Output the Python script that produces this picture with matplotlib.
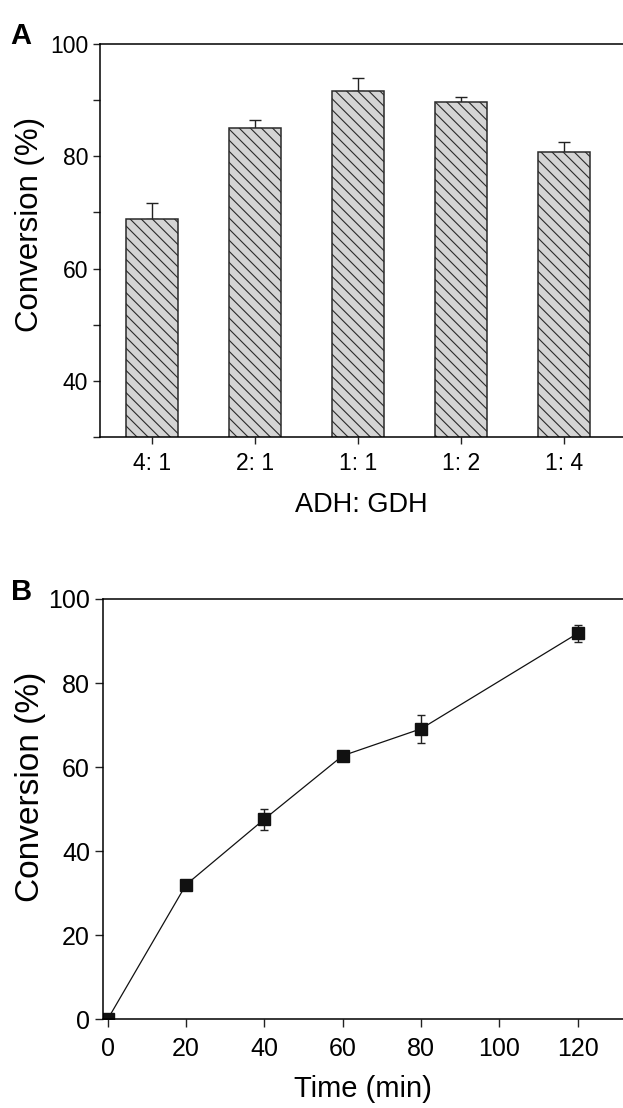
import matplotlib
matplotlib.use("Agg")
import matplotlib.pyplot as plt
from matplotlib.ticker import MultipleLocator

# panel A data
ratios = ['4: 1', '2: 1', '1: 1', '1: 2', '1: 4']
conv_a = [68.8, 85.0, 91.7, 89.6, 80.8]
err_a = [2.8, 1.5, 2.2, 1.0, 1.8]

# panel B data
time_b = [0, 20, 40, 60, 80, 120]
conv_b = [0.0, 32.0, 47.6, 62.7, 69.1, 91.8]
err_b = [0.0, 1.0, 2.5, 0.6, 3.4, 2.1]

plt.rcParams['font.family'] = ['Liberation Sans', 'DejaVu Sans']
plt.rcParams['hatch.linewidth'] = 0.8
plt.rcParams['axes.linewidth'] = 1.1

fig = plt.figure(figsize=(6.23, 11.08), dpi=100)

# ---- A ----
ax1 = fig.add_axes([0.1605, 0.6056, 1 - 0.1605, 0.3547])
x = list(range(len(ratios)))
ax1.bar(x, conv_a, width=0.5, color='#d4d4d4', edgecolor='#2a2a2a',
        linewidth=1.1, hatch='\\\\\\', zorder=2)
ax1.errorbar(x, conv_a, yerr=[[0] * len(err_a), err_a], fmt='none',
             ecolor='#222222', elinewidth=1, capsize=4.5, capthick=1, zorder=1)
ax1.set_xlim(-0.505, 4.573)
ax1.set_ylim(30, 100)
ax1.set_xticks(x)
ax1.set_xticklabels(ratios)
ax1.set_yticks([40, 60, 80, 100])
ax1.yaxis.set_minor_locator(MultipleLocator(10))
ax1.tick_params(which='both', direction='out', length=5, width=1,
                labelsize=16.5, color='#222222')
ax1.tick_params(axis='x', pad=6)
ax1.spines['right'].set_visible(False)
ax1.set_xlabel('ADH: GDH', fontsize=19.5, labelpad=12)
ax1.set_ylabel('Conversion (%)', fontsize=22.5)
ax1.yaxis.set_label_coords(-0.105, 0.54)

# ---- B ----
ax2 = fig.add_axes([0.1658, 0.0801, 1 - 0.1658, 0.3793])
ax2.errorbar(time_b, conv_b, yerr=err_b, fmt='-s', color='#111111',
             lw=0.9, ms=8.5, ecolor='#222222', elinewidth=1,
             capsize=3.2, capthick=1)
ax2.set_xlim(-1.12, 131.6)
ax2.set_ylim(0, 100)
ax2.set_xticks([0, 20, 40, 60, 80, 100, 120])
ax2.set_yticks([0, 20, 40, 60, 80, 100])
ax2.tick_params(direction='out', length=6, width=1, labelsize=18,
                color='#222222')
ax2.tick_params(axis='x', pad=7)
ax2.spines['right'].set_visible(False)
ax2.set_xlabel('Time (min)', fontsize=21, labelpad=10)
ax2.set_ylabel('Conversion (%)', fontsize=24)
ax2.yaxis.set_label_coords(-0.11, 0.553)

fig.text(0.017, 0.960, 'A', fontsize=21, fontweight='bold')
fig.text(0.017, 0.4585, 'B', fontsize=21, fontweight='bold')

fig.savefig('out.png', dpi=100)
